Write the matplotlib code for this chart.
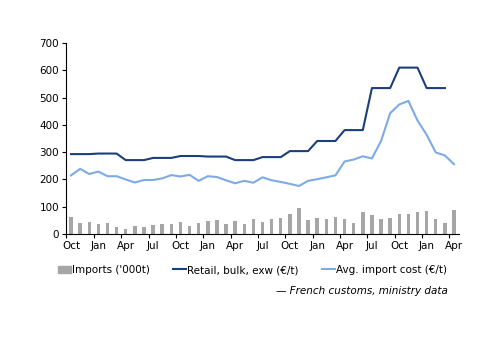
import numpy as np
import matplotlib
matplotlib.use("Agg")
import matplotlib.pyplot as plt
from matplotlib.patches import Patch
from matplotlib.lines import Line2D

# monthly, Oct to Apr (43 months)
tick_labels = ["Oct", "Jan", "Apr", "Jul", "Oct", "Jan", "Apr", "Jul",
               "Oct", "Jan", "Apr", "Jul", "Oct", "Jan", "Apr"]

imports = [63, 39, 45, 37, 41, 26, 19, 28, 26, 33, 36, 36, 45, 29, 42,
           46, 51, 38, 49, 37, 56, 45, 55, 57, 72, 94, 52, 60, 55, 62,
           56, 40, 81, 71, 56, 60, 72, 73, 81, 84, 54, 40, 87]

retail = [293, 293, 293, 295, 295, 295, 271, 271, 271, 279, 279, 279,
          286, 286, 286, 284, 284, 284, 271, 271, 271, 282, 282, 282,
          304, 304, 304, 341, 341, 341, 381, 381, 381, 535, 535, 535,
          610, 610, 610, 535, 535, 535, np.nan]

import_cost = [215, 239, 220, 229, 212, 212, 200, 189, 198, 198, 204, 216,
               211, 217, 195, 212, 209, 197, 186, 195, 188, 208, 197, 191,
               184, 176, 195, 201, 208, 215, 266, 273, 285, 277, 341, 443,
               475, 488, 416, 364, 299, 288, 256]

grey = "#a6a6a6"
navy = "#1b3f7a"
light = "#7eaae6"

plt.rcParams["font.family"] = "DejaVu Sans"
plt.rcParams["font.size"] = 7.5

fig = plt.figure(figsize=(5, 3.53), dpi=100)
ax = fig.add_axes([0.132, 0.337, 0.786, 0.541])

x = np.arange(len(imports))
ax.bar(x, imports, width=0.38, color=grey, zorder=1)
ax.plot(x, retail, color=navy, lw=1.5, zorder=3)
ax.plot(x, import_cost, color=light, lw=1.5, zorder=2)

ax.set_xlim(-0.55, len(imports) - 0.45)
ax.set_ylim(0, 700)
ax.set_yticks(range(0, 701, 100))

# ticks between months, labels on the month
ax.set_xticks(np.arange(0, len(imports), 3) - 0.5)
ax.set_xticklabels([])
ax.set_xticks(np.arange(0, len(imports), 3), minor=True)
ax.set_xticklabels(tick_labels, minor=True)
ax.tick_params(axis="x", which="major", direction="out", length=3, width=0.8)
ax.tick_params(axis="x", which="minor", length=0, pad=5)
ax.tick_params(axis="y", direction="out", length=3, width=0.8, pad=2)

for s in ["top", "right"]:
    ax.spines[s].set_visible(False)
ax.spines["left"].set_linewidth(0.8)
ax.spines["bottom"].set_linewidth(0.8)

handles = [Patch(color=grey),
           Line2D([], [], color=navy, lw=1.5),
           Line2D([], [], color=light, lw=1.5)]
labels = ["Imports ('000t)", "Retail, bulk, exw (\u20ac/t)", "Avg. import cost (\u20ac/t)"]
fig.legend(handles, labels, loc="center", bbox_to_anchor=(0.505, 0.235), ncol=3,
           frameon=False, handlelength=1.3, handleheight=0.7, handletextpad=0.1,
           columnspacing=2.2, fontsize=7.5)

fig.text(0.895, 0.176, "\u2014 French customs, ministry data", ha="right", va="center",
         style="italic", fontsize=7.5)

fig.savefig("out.png", dpi=100)
